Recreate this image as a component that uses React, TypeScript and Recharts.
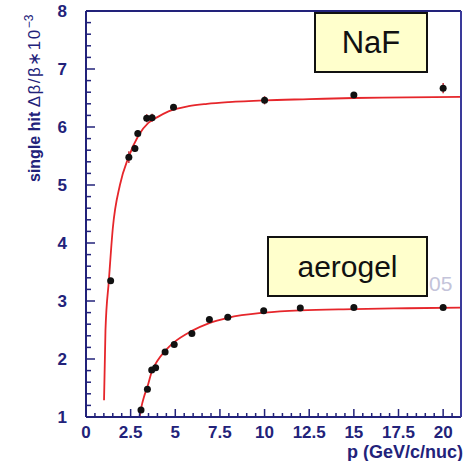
import React from 'react';
import { ComposedChart, Line, Scatter, XAxis, YAxis, ErrorBar } from 'recharts';

const NAVY = '#22227a';
const RED = '#e6262b';
const FONT = '"Liberation Sans", Arial, Helvetica, sans-serif';

// tick labels
const xMajor = [0, 2.5, 5, 7.5, 10, 12.5, 15, 17.5, 20];
const xTickLabels = ['0', '2.5', '5', '7.5', '10', '12.5', '15', '17.5', '20'];
const yMajor = [1, 2, 3, 4, 5, 6, 7, 8];
const yTickLabels = ['1', '2', '3', '4', '5', '6', '7', '8'];

const xTicks: number[] = [];
for (let i = 0; i <= 41; i++) xTicks.push(i * 0.5);
const yTicks: number[] = [];
for (let i = 0; i <= 35; i++) yTicks.push(Math.round((1 + i * 0.2) * 10) / 10);

// NaF measurements
const nafP = [1.38, 2.4, 2.74, 2.9, 3.4, 3.7, 4.9, 10, 15, 20];
const nafV = [3.35, 5.48, 5.63, 5.89, 6.15, 6.16, 6.34, 6.46, 6.55, 6.67];
const nafE = [0.05, 0.1, 0.06, 0.06, 0.07, 0.07, 0.05, 0.07, 0.05, 0.09];

// aerogel measurements
const aeroP = [3.08, 3.44, 3.68, 3.9, 4.43, 4.94, 5.93, 6.91, 7.94, 9.95, 12, 15, 20];
const aeroV = [1.12, 1.48, 1.81, 1.85, 2.12, 2.25, 2.44, 2.68, 2.72, 2.83, 2.88, 2.89, 2.89];

// fitted curves
const nafCurveP = [1.01, 1.09, 1.28, 1.5, 1.9, 2.37, 2.93, 3.49, 4.0, 4.62, 5.75, 6.78, 8, 10, 12.5, 15, 18, 21];
const nafCurveV = [1.29, 2.49, 3.35, 4.25, 5.0, 5.47, 5.85, 6.07, 6.17, 6.27, 6.36, 6.4, 6.43, 6.46, 6.48, 6.5, 6.51, 6.52];
const aeroCurveP = [3.0, 3.1, 3.25, 3.44, 3.68, 4.0, 4.43, 4.94, 5.9, 6.9, 7.94, 10, 12, 15, 18, 21];
const aeroCurveV = [1.0, 1.17, 1.35, 1.52, 1.78, 1.97, 2.14, 2.29, 2.48, 2.62, 2.71, 2.8, 2.84, 2.86, 2.875, 2.885];

const nafPts = nafP.map((p, i) => ({ p, v: nafV[i], e: nafE[i] }));
const aeroPts = aeroP.map((p, i) => ({ p, v: aeroV[i] }));
const nafCurve = nafCurveP.map((p, i) => ({ p, v: nafCurveV[i] }));
const aeroCurve = aeroCurveP.map((p, i) => ({ p, v: aeroCurveV[i] }));

const XTick = (props: any) => {
  const { x, y, payload } = props;
  const v = payload.value;
  const idx = xMajor.findIndex((m) => Math.abs(m - v) < 1e-6);
  const major = idx >= 0;
  return (
    <g>
      <line x1={x} x2={x} y1={y} y2={y - (major ? 8 : 4)} stroke={NAVY} strokeWidth={1.5} />
      {major && (
        <text x={x} y={y + 21} textAnchor="middle" fontFamily={FONT} fontWeight="bold" fontSize={17} fill={NAVY}>
          {xTickLabels[idx]}
        </text>
      )}
    </g>
  );
};

const YTick = (props: any) => {
  const { x, y, payload } = props;
  const v = payload.value;
  const idx = yMajor.findIndex((m) => Math.abs(m - v) < 1e-6);
  const major = idx >= 0;
  return (
    <g>
      <line x1={x} x2={x + (major ? 9 : 5)} y1={y} y2={y} stroke={NAVY} strokeWidth={1.5} />
      {major && (
        <text x={x - 19} y={y + 6} textAnchor="end" fontFamily={FONT} fontWeight="bold" fontSize={17} fill={NAVY}>
          {yTickLabels[idx]}
        </text>
      )}
    </g>
  );
};

const Dot = (p: any) => <circle cx={p.cx} cy={p.cy} r={3.5} fill="#111" />;

export default function App() {
  return (
    <div style={{ position: 'absolute', left: 0, top: 0, width: 467, height: 461, background: '#fff' }}>
      <ComposedChart width={467} height={461} margin={{ top: 0, right: 0, bottom: 0, left: 0 }}>
        <XAxis
          xAxisId="x"
          type="number"
          dataKey="p"
          domain={[0, 21]}
          ticks={xTicks}
          interval={0}
          tick={<XTick />}
          tickLine={false}
          tickSize={0}
          tickMargin={0}
          height={44}
          axisLine={{ stroke: NAVY, strokeWidth: 2 }}
          allowDataOverflow
        />
        <XAxis xAxisId="xt" orientation="top" type="number" domain={[0, 21]} height={11} tick={false} tickLine={false} axisLine={{ stroke: NAVY, strokeWidth: 2 }} />
        <YAxis
          yAxisId="y"
          type="number"
          dataKey="v"
          domain={[1, 8]}
          ticks={yTicks}
          interval={0}
          tick={<YTick />}
          tickLine={false}
          tickSize={0}
          tickMargin={0}
          width={86}
          axisLine={{ stroke: NAVY, strokeWidth: 2 }}
          allowDataOverflow
        />
        <YAxis yAxisId="yr" orientation="right" type="number" domain={[1, 8]} width={6} tick={false} tickLine={false} axisLine={{ stroke: '#3a3a9a', strokeWidth: 2 }} />
        <Line xAxisId="x" yAxisId="y" data={nafCurve} dataKey="v" type="monotone" stroke={RED} strokeWidth={1.8} dot={false} isAnimationActive={false} />
        <Line xAxisId="x" yAxisId="y" data={aeroCurve} dataKey="v" type="monotone" stroke={RED} strokeWidth={1.8} dot={false} isAnimationActive={false} />
        <Scatter xAxisId="x" yAxisId="y" data={nafPts} dataKey="v" shape={Dot} isAnimationActive={false}>
          <ErrorBar dataKey="e" direction="y" width={0} stroke="#c0202c" strokeWidth={1.4} />
        </Scatter>
        <Scatter xAxisId="x" yAxisId="y" data={aeroPts} dataKey="v" shape={Dot} isAnimationActive={false} />
      </ComposedChart>

      <svg width={467} height={461} style={{ position: 'absolute', left: 0, top: 0, pointerEvents: 'none' }}>
        <text x={429} y={291} fontFamily={FONT} fontSize={21} fill="#c4c4da">05</text>
        <text
          transform="translate(40,182) rotate(-90)"
          fontFamily={FONT}
          fill={NAVY}
        >
          <tspan fontWeight="bold" fontSize={16}>single hit </tspan>
          <tspan fontSize={17} letterSpacing={1.5}>Δβ/β∗10</tspan>
          <tspan fontSize={12} dy={-7}>−3</tspan>
        </text>
        <text x={463} y={458} textAnchor="end" fontFamily={FONT} fontWeight="bold" fontSize={18} fill={NAVY}>
          p (GeV/c/nuc)
        </text>
      </svg>

      <div
        style={{
          position: 'absolute', left: 314, top: 12, width: 114, height: 61, boxSizing: 'border-box',
          border: '2px solid #111', background: '#ffffcc', display: 'flex', alignItems: 'center', justifyContent: 'center',
          fontFamily: FONT, fontSize: 31, color: '#111',
        }}
      >
        NaF
      </div>
      <div
        style={{
          position: 'absolute', left: 267, top: 236, width: 161, height: 61, boxSizing: 'border-box',
          border: '2px solid #111', background: '#ffffcc', display: 'flex', alignItems: 'center', justifyContent: 'center',
          fontFamily: FONT, fontSize: 30, color: '#111',
        }}
      >
        aerogel
      </div>
    </div>
  );
}
